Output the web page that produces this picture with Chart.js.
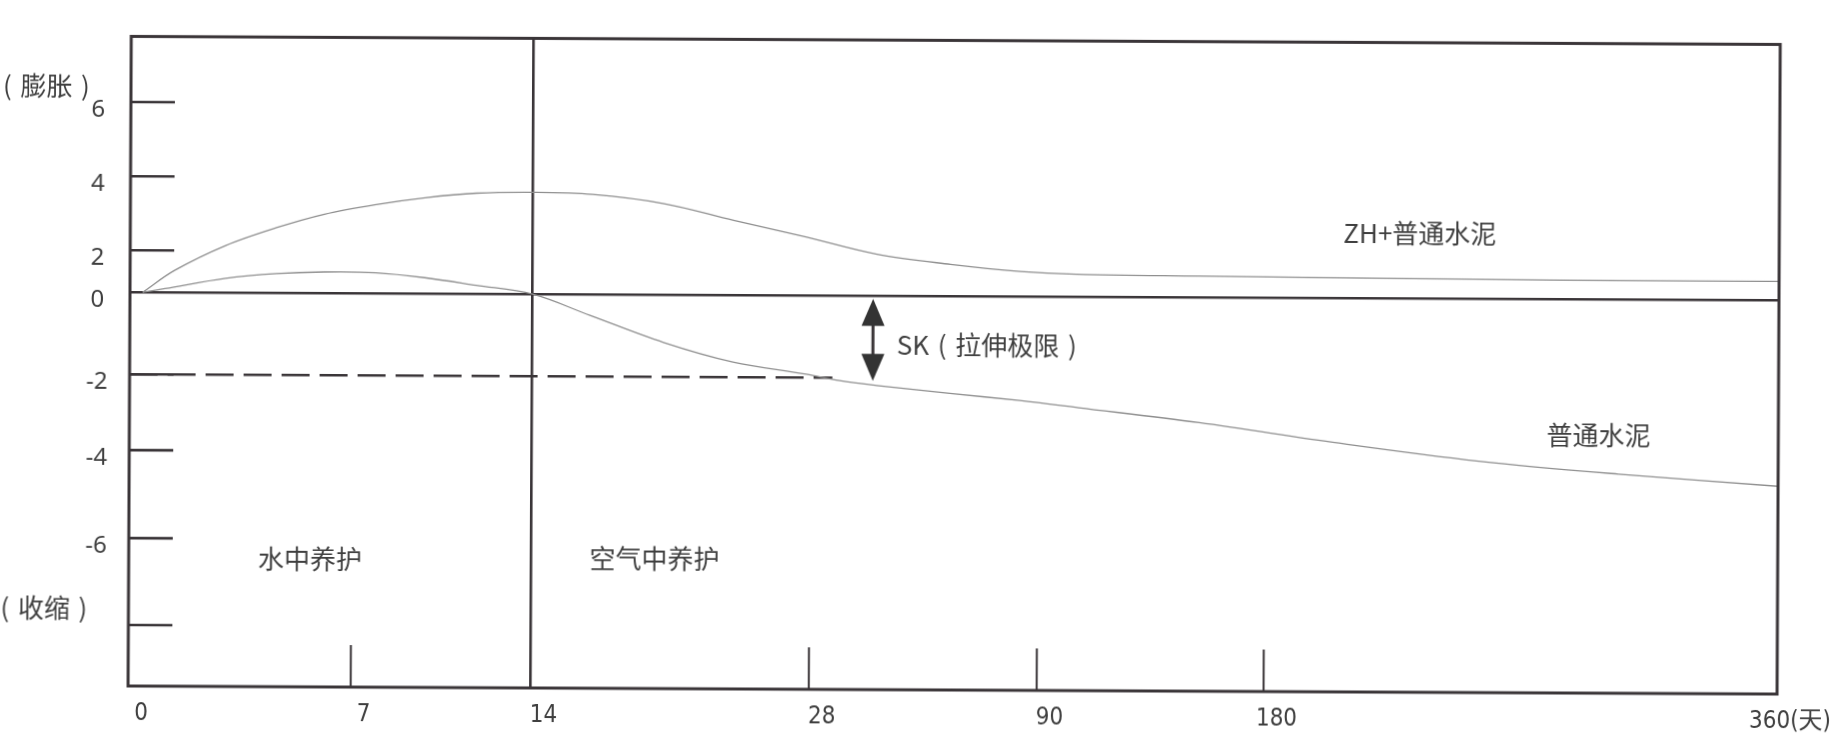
<!DOCTYPE html>
<html lang="zh-CN">
<head>
<meta charset="utf-8">
<title>ZH 膨胀收缩曲线</title>
<script src="https://cdn.jsdelivr.net/npm/chart.js@4.4.1/dist/chart.umd.min.js"></script>
<style>
  html, body { margin: 0; padding: 0; background: #fff; overflow: hidden; }
  #wrap { width: 1836px; height: 742px; }
  /* the source figure is a slightly skewed scan: right side sits ~8px lower */
  #shrinkChart { transform-origin: 130px 292px; transform: rotate(0.28deg); }
</style>
</head>
<body>
<div id="wrap"><canvas id="shrinkChart" width="1836" height="742"></canvas></div>
<script>
/* ---------------------------------------------------------------
   Data — days of curing vs. expansion (+) / shrinkage (-)
   --------------------------------------------------------------- */
const dayTicks     = [0, 7, 14, 28, 90, 180, 360];
const dayLabels    = ['0', '7', '14', '28', '90', '180', '360(天)'];
const strainTicks  = [6, 4, 2, 0, -2, -4, -6, -8];
const strainLabels = ['6', '4', '2', '0', '-2', '-4', '-6', ''];

const zhDays    = [0.4, 1.4, 3, 4.6, 6.1, 7.9, 9.8, 11.8, 14, 17, 20.6, 24.1, 27.8, 46, 66, 85, 105, 154, 206, 255, 304, 360];
const zhValues  = [0, 1.05, 2.14, 2.63, 3.0, 3.27, 3.46, 3.59, 3.62, 3.57, 3.33, 2.89, 2.44, 1.98, 1.52, 1.2, 1.08, 1.02, 0.97, 0.93, 0.9, 0.9];

const ordDays   = [0.4, 1.1, 3, 4.6, 6.1, 7.9, 9.8, 11.8, 14, 16.9, 20.6, 24.1, 27.8, 36, 46, 66, 85, 106, 154, 206, 255, 304, 360];
const ordValues = [0, 0.18, 0.68, 0.92, 1.01, 0.98, 0.76, 0.41, 0, -0.51, -1.16, -1.63, -1.92, -2.08, -2.2, -2.4, -2.58, -2.76, -3.14, -3.66, -4.1, -4.38, -4.64];

const skLimit        = -2;     // 拉伸极限
const skDays         = [0, 34];
const skArrowDay     = 45;
const curingSplitDay = 14;     // 水中养护 → 空气中养护

/* ---------------------------------------------------------------
   Scale layout — the drawing is not to scale, so both axes are
   piecewise linear between their printed ticks
   --------------------------------------------------------------- */
const scaleStops = {
  x: { values: [0, 7, 14, 28, 90, 180, 360],
       fractions: [0, 0.135, 0.2441, 0.4128, 0.551, 0.6886, 1] },
  y: { values: [-9.4, -8, -6, -4, -2, 0, 2, 4, 6, 7.8],
       fractions: [0, 0.0938, 0.2277, 0.3631, 0.48, 0.6062, 0.6708, 0.7846, 0.8989, 1] }
};

function lerpStops(v, from, to) {
  let i = 1;
  while (i < from.length - 1 && v > from[i]) i++;
  const a = from[i - 1], b = from[i];
  return to[i - 1] + (v - a) / (b - a) * (to[i] - to[i - 1]);
}

class PiecewiseScale extends Chart.LinearScale {
  static id = 'piecewise';
  static defaults = Chart.LinearScale.defaults;

  getPixelForValue(value) {
    if (value === null || value === undefined || isNaN(value)) return NaN;
    const s = scaleStops[this.id];
    return this.getPixelForDecimal(lerpStops(value, s.values, s.fractions));
  }
  getValueForPixel(pixel) {
    const s = scaleStops[this.id];
    return lerpStops(this.getDecimalForPixel(pixel), s.fractions, s.values);
  }
}
Chart.register(PiecewiseScale);

/* ---------------------------------------------------------------
   Styles
   --------------------------------------------------------------- */
const INK   = '#3a3538';
const TEXT  = '#3f3f3f';
const CURVE = '#8f8f8f';
const CJK   = '"Noto Sans CJK SC", "Noto Sans", sans-serif';
const SP    = '\u2004';

const notes = [
  { text: 'ZH+普通水泥',                                day: 234,  value: 2.62,  align: 'center' },
  { text: '普通水泥',                                   day: 297,  value: -3.42, align: 'center' },
  { text: 'SK' + SP + '(' + SP + '拉伸极限' + SP + ')', day: 51.5, value: -1.2,  align: 'left' },
  { text: '水中养护',                                   day: 5.7,  value: -6.46, align: 'center' },
  { text: '空气中养护',                                 day: 20.2, value: -6.42, align: 'center' }
];
const sideNotes = [
  { text: '(' + SP + '膨胀' + SP + ')', value: 6.45 },
  { text: '(' + SP + '收缩' + SP + ')', value: -7.61 }
];

/* ---------------------------------------------------------------
   Plugin: frame, inward tick marks, SK arrow, text notes
   --------------------------------------------------------------- */
const frameAndMarks = {
  id: 'frameAndMarks',
  afterDatasetsDraw(chart) {
    const { ctx, chartArea: a, scales: { x, y } } = chart;
    ctx.save();
    ctx.strokeStyle = INK;

    ctx.lineWidth = 2.6;
    strainTicks.filter(v => v !== 0).forEach(v => {
      const py = y.getPixelForValue(v);
      ctx.beginPath();
      ctx.moveTo(a.left, py);
      ctx.lineTo(a.left + 44, py);
      ctx.stroke();
    });

    ctx.lineWidth = 2;
    dayTicks.filter(d => d > 0 && d < 360 && d !== curingSplitDay).forEach(d => {
      const px = x.getPixelForValue(d);
      ctx.beginPath();
      ctx.moveTo(px, a.bottom);
      ctx.lineTo(px, a.bottom - 42);
      ctx.stroke();
    });

    ctx.lineWidth = 3;
    ctx.strokeRect(a.left, a.top, a.right - a.left, a.bottom - a.top);

    /* SK double arrow, from the zero line down to the tensile limit */
    const ax = x.getPixelForValue(skArrowDay);
    const top = y.getPixelForValue(0) + 3;
    const bot = y.getPixelForValue(skLimit) + 3;
    const hw = 11.5, hh = 27;
    ctx.fillStyle = '#333';
    ctx.lineWidth = 3;
    ctx.beginPath();
    ctx.moveTo(ax, top + hh - 2);
    ctx.lineTo(ax, bot - hh + 2);
    ctx.stroke();
    ctx.beginPath();
    ctx.moveTo(ax, top);
    ctx.lineTo(ax + hw, top + hh);
    ctx.lineTo(ax - hw, top + hh);
    ctx.closePath();
    ctx.fill();
    ctx.beginPath();
    ctx.moveTo(ax, bot);
    ctx.lineTo(ax + hw, bot - hh);
    ctx.lineTo(ax - hw, bot - hh);
    ctx.closePath();
    ctx.fill();

    /* text notes */
    ctx.fillStyle = TEXT;
    ctx.font = '26px ' + CJK;
    ctx.textBaseline = 'middle';
    notes.forEach(n => {
      ctx.textAlign = n.align;
      ctx.fillText(n.text, x.getPixelForValue(n.day), y.getPixelForValue(n.value));
    });
    ctx.textAlign = 'left';
    sideNotes.forEach(n => ctx.fillText(n.text, 2, y.getPixelForValue(n.value)));
    ctx.restore();
  }
};

/* ---------------------------------------------------------------
   Chart
   --------------------------------------------------------------- */
const toPoints = (xs, ys) => xs.map((d, i) => ({ x: d, y: ys[i] }));

new Chart(document.getElementById('shrinkChart'), {
  type: 'line',
  data: {
    datasets: [
      {
        label: 'ZH+普通水泥',
        data: toPoints(zhDays, zhValues),
        borderColor: CURVE,
        borderWidth: 1.3,
        pointRadius: 0,
        tension: 0.35
      },
      {
        label: '普通水泥',
        data: toPoints(ordDays, ordValues),
        borderColor: CURVE,
        borderWidth: 1.3,
        pointRadius: 0,
        tension: 0.35
      },
      {
        label: 'SK',
        data: toPoints(skDays, skDays.map(() => skLimit)),
        borderColor: INK,
        borderWidth: 2.6,
        borderDash: [28, 10],
        pointRadius: 0
      }
    ]
  },
  options: {
    responsive: false,
    animation: false,
    layout: { padding: { top: 36, right: 57, left: 0, bottom: 0 } },
    plugins: { legend: { display: false }, tooltip: { enabled: false } },
    scales: {
      x: {
        type: 'piecewise',
        min: 0, max: 360,
        afterFit: s => { s.height = 56; },
        afterBuildTicks: s => { s.ticks = dayTicks.map(v => ({ value: v })); },
        border: { display: false },
        grid: {
          drawTicks: false,
          lineWidth: 2.6,
          color: c => (c.tick && c.tick.value === curingSplitDay ? INK : 'rgba(0,0,0,0)')
        },
        ticks: {
          autoSkip: false,
          maxRotation: 0,
          padding: 13,
          labelOffset: 13,
          color: TEXT,
          font: { family: '"Liberation Sans Narrow", "DejaVu Sans Condensed", "Noto Sans CJK SC", sans-serif', size: 24 },
          callback: (v, i) => dayLabels[i]
        }
      },
      y: {
        type: 'piecewise',
        min: -9.4, max: 7.8,
        afterFit: s => { s.width = 130; },
        afterBuildTicks: s => { s.ticks = strainTicks.map(v => ({ value: v })); },
        border: { display: false },
        grid: {
          drawTicks: false,
          lineWidth: 2.6,
          color: c => (c.tick && c.tick.value === 0 ? INK : 'rgba(0,0,0,0)')
        },
        ticks: {
          autoSkip: false,
          crossAlign: 'center',
          padding: 22,
          labelOffset: 8,
          color: TEXT,
          font: { family: '"Noto Sans", sans-serif', size: 24 },
          callback: (v, i) => strainLabels[i]
        }
      }
    }
  },
  plugins: [frameAndMarks]
});
</script>
</body>
</html>
